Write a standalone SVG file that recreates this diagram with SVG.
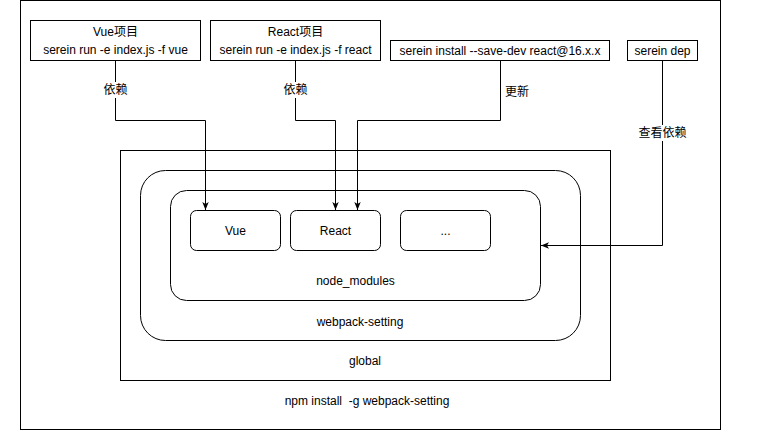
<svg xmlns="http://www.w3.org/2000/svg" width="778" height="431" viewBox="0 0 778 431">
<style>
  .box{fill:#fff;stroke:#000;stroke-width:1}
  .t{font-family:"Liberation Sans","Noto Sans CJK SC",sans-serif;font-size:12px;fill:#000;text-anchor:middle;dominant-baseline:central;white-space:pre}
  .e{fill:none;stroke:#000;stroke-width:1}
  .lbg{fill:#fff}
</style>
<defs>
  <marker id="arr" viewBox="0 0 10 10" refX="10" refY="5" markerWidth="8" markerHeight="8" markerUnits="userSpaceOnUse" orient="auto">
    <path d="M0,1 L10,5 L0,9 L2.5,5 Z" fill="#000"/>
  </marker>
</defs>
<rect width="778" height="431" fill="#fff"/>
<g id="frame">
  <rect class="box" x="20.5" y="0.5" width="700" height="429"/>
  <text class="t" x="367" y="401">npm install  -g webpack-setting</text>
</g>
<g id="global">
  <rect class="box" x="120.5" y="150.5" width="490" height="230"/>
  <text class="t" x="365" y="361">global</text>
</g>
<g id="webpack-setting">
  <rect class="box" x="140.5" y="170.5" width="440" height="170" rx="25" ry="25"/>
  <text class="t" x="360" y="322">webpack-setting</text>
</g>
<g id="node_modules">
  <rect class="box" x="170.5" y="190.5" width="370" height="110" rx="16" ry="16"/>
  <text class="t" x="355.5" y="281">node_modules</text>
</g>
<g id="vue">
  <rect class="box" x="190.5" y="210.5" width="90" height="40" rx="6" ry="6"/>
  <text class="t" x="235.5" y="230.5">Vue</text>
</g>
<g id="react">
  <rect class="box" x="290.5" y="210.5" width="90" height="40" rx="6" ry="6"/>
  <text class="t" x="335.5" y="230.5">React</text>
</g>
<g id="more">
  <rect class="box" x="400.5" y="210.5" width="90" height="40" rx="6" ry="6"/>
  <text class="t" x="445.5" y="230.5">...</text>
</g>
<g id="vue-project">
  <rect class="box" x="30.5" y="20.5" width="170" height="40"/>
  <text class="t" x="115.5" y="32">Vue项目</text>
  <text class="t" x="115.5" y="50">serein run -e index.js -f vue</text>
</g>
<g id="react-project">
  <rect class="box" x="210.5" y="20.5" width="170" height="40"/>
  <text class="t" x="295.5" y="32">React项目</text>
  <text class="t" x="295.5" y="50">serein run -e index.js -f react</text>
</g>
<g id="install">
  <rect class="box" x="390.5" y="40.5" width="219" height="20"/>
  <text class="t" x="500" y="50.5">serein install --save-dev react@16.x.x</text>
</g>
<g id="dep">
  <rect class="box" x="627.5" y="40.5" width="70" height="20"/>
  <text class="t" x="662.5" y="50.5">serein dep</text>
</g>
<g id="connectors">
  <path class="e" d="M115.5,60.5 V120.5 H205.5 V210" marker-end="url(#arr)"/>
  <path class="e" d="M295.5,60.5 V120.5 H335.5 V210" marker-end="url(#arr)"/>
  <path class="e" d="M500.5,60.5 V120.5 H357.5 V210" marker-end="url(#arr)"/>
  <path class="e" d="M662.5,60.5 V245.5 H541" marker-end="url(#arr)"/>
  <rect class="lbg" x="102" y="82" width="27" height="16"/>
  <text class="t" x="115.5" y="90">依赖</text>
  <rect class="lbg" x="282" y="82" width="27" height="16"/>
  <text class="t" x="295.5" y="90">依赖</text>
  <text class="t" x="517" y="92">更新</text>
  <rect class="lbg" x="637" y="125" width="51" height="16"/>
  <text class="t" x="662.5" y="133">查看依赖</text>
</g>
</svg>
